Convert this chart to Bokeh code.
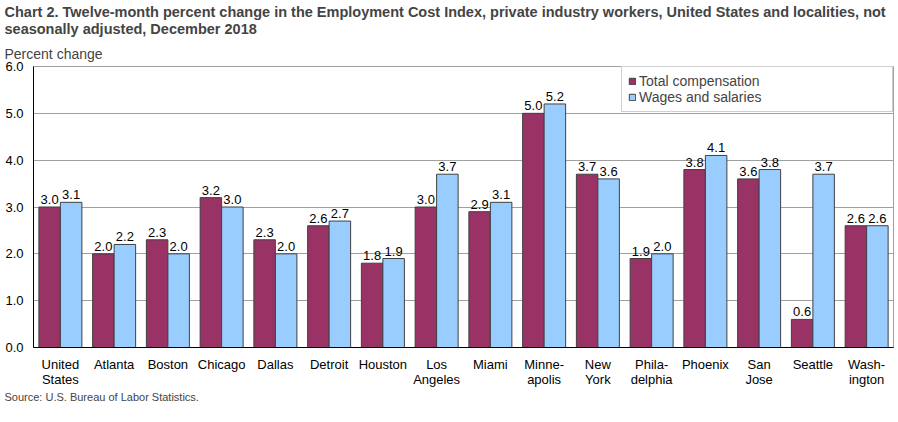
from bokeh.plotting import figure
from bokeh.models import ColumnDataSource, Legend, LegendItem, FactorRange, Title
from bokeh.transform import dodge
from bokeh.core.properties import value
from bokeh.embed import file_html
from bokeh.resources import INLINE

cities = ["United\nStates", "Atlanta", "Boston", "Chicago", "Dallas", "Detroit", "Houston",
          "Los\nAngeles", "Miami", "Minne-\napolis", "New\nYork", "Phila-\ndelphia",
          "Phoenix", "San\nJose", "Seattle", "Wash-\nington"]
total_comp = [3.0, 2.0, 2.3, 3.2, 2.3, 2.6, 1.8, 3.0, 2.9, 5.0, 3.7, 1.9, 3.8, 3.6, 0.6, 2.6]
wages = [3.1, 2.2, 2.0, 3.0, 2.0, 2.7, 1.9, 3.7, 3.1, 5.2, 3.6, 2.0, 4.1, 3.8, 3.7, 2.6]
y_ticks = [0, 1, 2, 3, 4, 5, 6]

title_text = ("Chart 2. Twelve-month percent change in the Employment Cost Index, private industry workers, "
              "United States and localities, not\nseasonally adjusted, December 2018")
y_label = "Percent change"
source_text = "Source: U.S. Bureau of Labor Statistics."

FONT = "Liberation Sans"
MAROON = "#993366"
BLUE = "#99CCFF"

src = ColumnDataSource(dict(
    city=cities,
    tc=total_comp,
    ws=wages,
    tc_lbl=[f"{v:.1f}" for v in total_comp],
    ws_lbl=[f"{v:.1f}" for v in wages],
))

p = figure(x_range=FactorRange(*cities), y_range=(0, 6), title=None,
           width=898, height=422, output_backend="svg", toolbar_location=None,
           min_border_left=33, min_border_right=5, min_border_top=66, min_border_bottom=75)

r1 = p.vbar(x=dodge("city", -0.2, range=p.x_range), top="tc", width=0.4, source=src,
            fill_color=MAROON, line_color="#404040", line_width=1)
r2 = p.vbar(x=dodge("city", 0.2, range=p.x_range), top="ws", width=0.4, source=src,
            fill_color=BLUE, line_color="#404040", line_width=1)

p.text(x=dodge("city", -0.2, range=p.x_range), y="tc", text="tc_lbl", source=src,
       text_align="center", text_baseline="bottom", y_offset=-3,
       text_font=value(FONT), text_font_size="13px", text_color="black")
p.text(x=dodge("city", 0.2, range=p.x_range), y="ws", text="ws_lbl", source=src,
       text_align="center", text_baseline="bottom", y_offset=-3,
       text_font=value(FONT), text_font_size="13px", text_color="black")

# axes
p.yaxis.ticker = y_ticks
p.yaxis.major_label_overrides = {t: f"{t:.1f}" for t in y_ticks}
p.yaxis.major_tick_out = 0
p.yaxis.major_tick_in = 0
p.yaxis.minor_tick_out = 0
p.yaxis.minor_tick_in = 0
p.yaxis.major_label_standoff = 10
p.yaxis.axis_line_color = "black"
p.xaxis.major_tick_out = 0
p.xaxis.major_tick_in = 0
p.xaxis.major_label_standoff = 9
p.xaxis.axis_line_color = "black"
p.xaxis.major_label_text_line_height = 1.0
for ax in (p.xaxis, p.yaxis):
    ax.major_label_text_font = FONT
    ax.major_label_text_font_size = "13px"
    ax.major_label_text_color = "black"

p.xgrid.grid_line_color = None
p.ygrid.grid_line_color = "#A0A0A0"
p.ygrid.grid_line_width = 1
p.outline_line_color = "#A0A0A0"
p.x_range.range_padding = 0
p.x_range.group_padding = 0

legend = Legend(items=[LegendItem(label="Total compensation", renderers=[r1]),
                       LegendItem(label="Wages and salaries", renderers=[r2])],
                location="top_right", margin=0, padding=6, spacing=0,
                glyph_width=8, glyph_height=8, label_height=16, label_standoff=3,
                label_width=247, label_text_font=FONT, label_text_font_size="14px",
                border_line_color="#A0A0A0", border_line_width=1,
                background_fill_color="white", background_fill_alpha=1)
p.add_layout(legend, "center")

# titles above (first added is closest to the plot)
p.add_layout(Title(text=y_label, align="left", offset=-29, standoff=10,
                   text_font=FONT, text_font_size="14px", text_font_style="normal"), "above")
p.add_layout(Title(text=title_text, align="left", offset=-29, standoff=2,
                   text_font=FONT, text_font_size="14.5px", text_font_style="bold",
                   text_line_height=1.1), "above")
p.add_layout(Title(text=source_text, align="left", offset=-29, standoff=-1,
                   text_font=FONT, text_font_size="11px", text_font_style="normal"), "below")

open("out.html", "w").write(file_html(p, INLINE))
